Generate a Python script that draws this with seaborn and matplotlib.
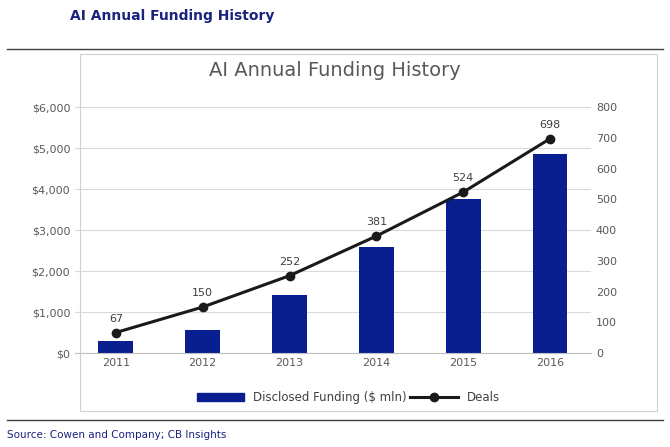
import matplotlib.pyplot as plt
import seaborn as sns
import pandas as pd
from matplotlib.lines import Line2D
from matplotlib.patches import Patch

years = ["2011", "2012", "2013", "2014", "2015", "2016"]
funding = [290, 570, 1430, 2600, 3750, 4870]
deals = [67, 150, 252, 381, 524, 698]
left_ticks = ["$0", "$1,000", "$2,000", "$3,000", "$4,000", "$5,000", "$6,000"]

BAR = "#0a1f8f"
df = pd.DataFrame({"year": years, "funding": funding, "deals": deals})

fig = plt.figure(figsize=(6.7, 4.47), dpi=100)
ax = fig.add_axes([0.112, 0.21, 0.77, 0.55])
sns.barplot(data=df, x="year", y="funding", color=BAR, width=0.4, ax=ax, saturation=1)
ax.set_ylim(0, 6000)
ax.set_yticks(range(0, 6001, 1000))
ax.set_yticklabels(left_ticks)
ax.set_xlabel("")
ax.set_ylabel("")
ax.grid(axis="y", color="#d9d9d9", linewidth=0.8)
ax.set_axisbelow(True)
for s in ax.spines.values():
    s.set_visible(False)
ax.spines["bottom"].set_visible(True)
ax.spines["bottom"].set_color("#bfbfbf")
ax.tick_params(length=0, labelsize=8, colors="#595959")

ax2 = ax.twinx()
ax2.plot(range(len(years)), deals, color="#1a1a1a", linewidth=2.2, marker="o", markersize=6)
ax2.set_ylim(0, 800)
ax2.set_yticks(range(0, 801, 100))
for s in ax2.spines.values():
    s.set_visible(False)
ax2.tick_params(length=0, labelsize=8, colors="#595959")
for i, d in enumerate(deals):
    ax2.text(i, d + 28, str(d), ha="center", va="bottom", fontsize=8, color="#404040")

fig.text(0.5, 0.83, "AI Annual Funding History", ha="center", fontsize=14, color="#595959")
fig.text(0.105, 0.955, "AI Annual Funding History", ha="left", fontsize=10,
         color="#1a237e", fontweight="bold")
fig.text(0.01, 0.02, "Source: Cowen and Company; CB Insights", fontsize=7.5, color="#1a237e")
fig.add_artist(Line2D([0.01, 0.99], [0.89, 0.89], color="#404040", linewidth=1))
fig.add_artist(Line2D([0.01, 0.99], [0.06, 0.06], color="#404040", linewidth=1))
fig.add_artist(plt.Rectangle((0.12, 0.08), 0.86, 0.8, fill=False, edgecolor="#d0d0d0", linewidth=0.8))

handles = [Patch(color=BAR, label="Disclosed Funding ($ mln)"),
           Line2D([0], [0], color="#1a1a1a", linewidth=2.2, marker="o", label="Deals")]
fig.legend(handles=handles, loc="center", bbox_to_anchor=(0.52, 0.11), ncol=2,
           frameon=False, fontsize=8.5, handlelength=4, columnspacing=0.3,
           labelcolor="#404040")

fig.savefig("out.png")
